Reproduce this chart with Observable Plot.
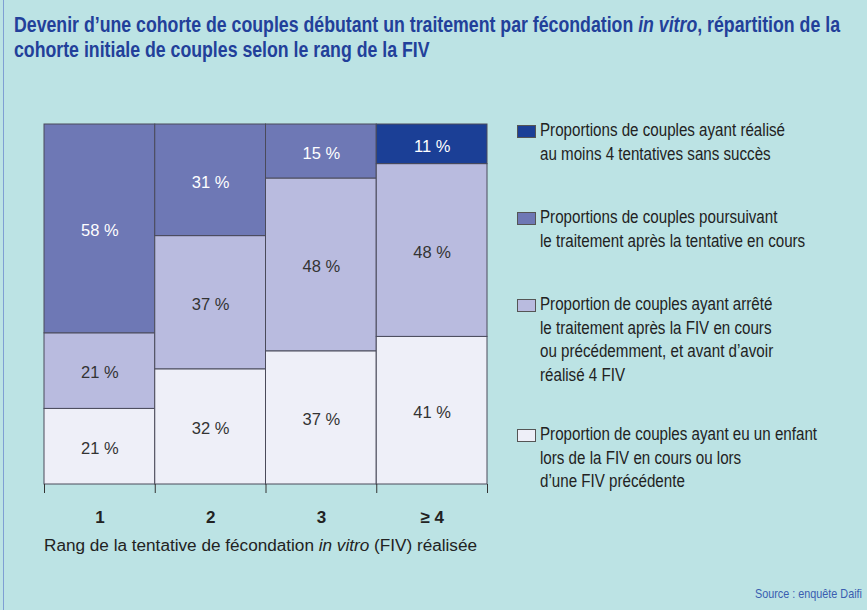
<!DOCTYPE html>
<html><head><meta charset="utf-8">
<script src="https://cdn.jsdelivr.net/npm/d3@7"></script>
<script src="https://cdn.jsdelivr.net/npm/@observablehq/plot@0.6"></script>
<style>
html,body{margin:0;padding:0;}
body{width:867px;height:610px;background:#bce3e4;position:relative;overflow:hidden;font-family:"Liberation Sans",Arial,sans-serif;}
#frame{position:absolute;left:3px;top:0;width:1px;height:610px;background:#7f9fd3;}
#title{position:absolute;left:14px;top:12px;font-family:"Liberation Sans",Arial,sans-serif;font-weight:bold;font-size:22.5px;line-height:25px;color:#22409a;white-space:nowrap;transform-origin:0 0;}
#chart{position:absolute;left:0;top:100px;}
#xlabel{position:absolute;left:44px;top:537px;font-size:16px;color:#222;white-space:nowrap;transform-origin:0 0;}
#legend{position:absolute;left:517px;top:0;font-family:"Liberation Sans",Arial,sans-serif;font-size:17.5px;line-height:23.5px;color:#222;}
.item{position:absolute;left:0;white-space:nowrap;}
.sw{position:absolute;left:0;top:6px;width:17px;height:11px;border:1px solid #555;}
.txt{position:absolute;left:23px;top:0;transform-origin:0 0;}
#source{position:absolute;left:755px;top:586px;font-size:13px;color:#3a5db0;white-space:nowrap;transform-origin:0 0;}
</style></head>
<body>
<div id="frame"></div>
<div id="title">Devenir d’une cohorte de couples débutant un traitement par fécondation <i>in vitro</i>, répartition de la<br>cohorte initiale de couples selon le rang de la FIV</div>
<div id="chart"></div>
<div id="xlabel">Rang de la tentative de fécondation <i>in vitro</i> (FIV) réalisée</div>
<div id="legend"></div>
<div id="source">Source : enquête Daifi</div>
<script>
const ranks = ["1", "2", "3", "≥ 4"];
const enfant = [21, 32, 37, 41];
const arrete = [21, 37, 48, 48];
const poursuivant = [58, 31, 15, 0];
const auMoins4 = [0, 0, 0, 11];

const categories = ["enfant", "arrete", "poursuivant", "auMoins4"];
const colors = ["#eeeff8", "#b9bbdf", "#6e78b5", "#1b3f96"];
const textColors = ["#333", "#333", "#ffffff", "#ffffff"];
const legendLabels = [
  ["Proportion de couples ayant eu un enfant", "lors de la FIV en cours ou lors", "d’une FIV précédente"],
  ["Proportion de couples ayant arrêté", "le traitement après la FIV en cours", "ou précédemment, et avant d’avoir", "réalisé 4 FIV"],
  ["Proportions de couples poursuivant", "le traitement après la tentative en cours"],
  ["Proportions de couples ayant réalisé", "au moins 4 tentatives sans succès"]
];
const legendTops = [423, 293, 206, 119];

const series = [enfant, arrete, poursuivant, auMoins4];
const rows = [];
ranks.forEach((r, i) => {
  let y0 = 0;
  series.forEach((s, k) => {
    const v = s[i];
    if (v > 0) {
      rows.push({i, rank: r, cat: categories[k], k, y1: y0, y2: y0 + v, v});
      y0 += v;
    }
  });
});

const chart = Plot.plot({
  width: 500,
  height: 430,
  marginLeft: 44,
  marginRight: 13,
  marginTop: 24,
  marginBottom: 46,
  style: {background: "transparent", fontFamily: "Liberation Sans, Arial, sans-serif"},
  x: {domain: [0, ranks.length], axis: null},
  y: {domain: [0, 100], axis: null},
  color: {domain: categories, range: colors},
  marks: [
    Plot.rect(rows, {x1: "i", x2: d => d.i + 1, y1: "y1", y2: "y2", fill: "cat", stroke: "#4a4a5a", strokeWidth: 1}),
    Plot.text(rows, {x: d => d.i + 0.5, y: d => (d.y1 + d.y2) / 2, text: d => d.v + " %", fill: d => textColors[d.k], fontSize: 16.5, dy: 2}),
    Plot.axisX({ticks: d3.range(0, ranks.length + 1), tickSize: 9, tickFormat: () => "", label: null, stroke: "#333", strokeWidth: 1}),
    Plot.axisX({ticks: d3.range(0, ranks.length).map(i => i + 0.5), tickSize: 0, tickPadding: 26, label: null, tickFormat: t => ranks[Math.floor(t)], fontSize: 17, fontWeight: "bold", fill: "#222"})
  ]
});
document.getElementById("chart").appendChild(chart);

const legend = document.getElementById("legend");
const txts = [];
categories.forEach((c, k) => {
  const it = document.createElement("div");
  it.className = "item";
  it.style.top = legendTops[k] + "px";
  const sw = document.createElement("div");
  sw.className = "sw";
  sw.style.background = colors[k];
  const tx = document.createElement("div");
  tx.className = "txt";
  tx.innerHTML = legendLabels[k].join("<br>");
  it.appendChild(sw); it.appendChild(tx);
  legend.appendChild(it);
  txts.push(tx);
});

// condense text to match the narrow typeface of the original
function fit(el, target) {
  const w = el.getBoundingClientRect().width;
  el.style.transform = `scaleX(${target / w})`;
}
fit(document.getElementById("title"), 826);
fit(document.getElementById("source"), 107);
fit(document.getElementById("xlabel"), 433);
const probe = document.createElement("span");
probe.style.cssText = "position:absolute;visibility:hidden;white-space:nowrap;font-family:'Liberation Sans',Arial,sans-serif;font-size:17.5px;";
probe.textContent = legendLabels[3][0];
document.body.appendChild(probe);
const s = 245 / probe.getBoundingClientRect().width;
probe.remove();
txts.forEach(t => t.style.transform = `scaleX(${s})`);
</script>
</body></html>
